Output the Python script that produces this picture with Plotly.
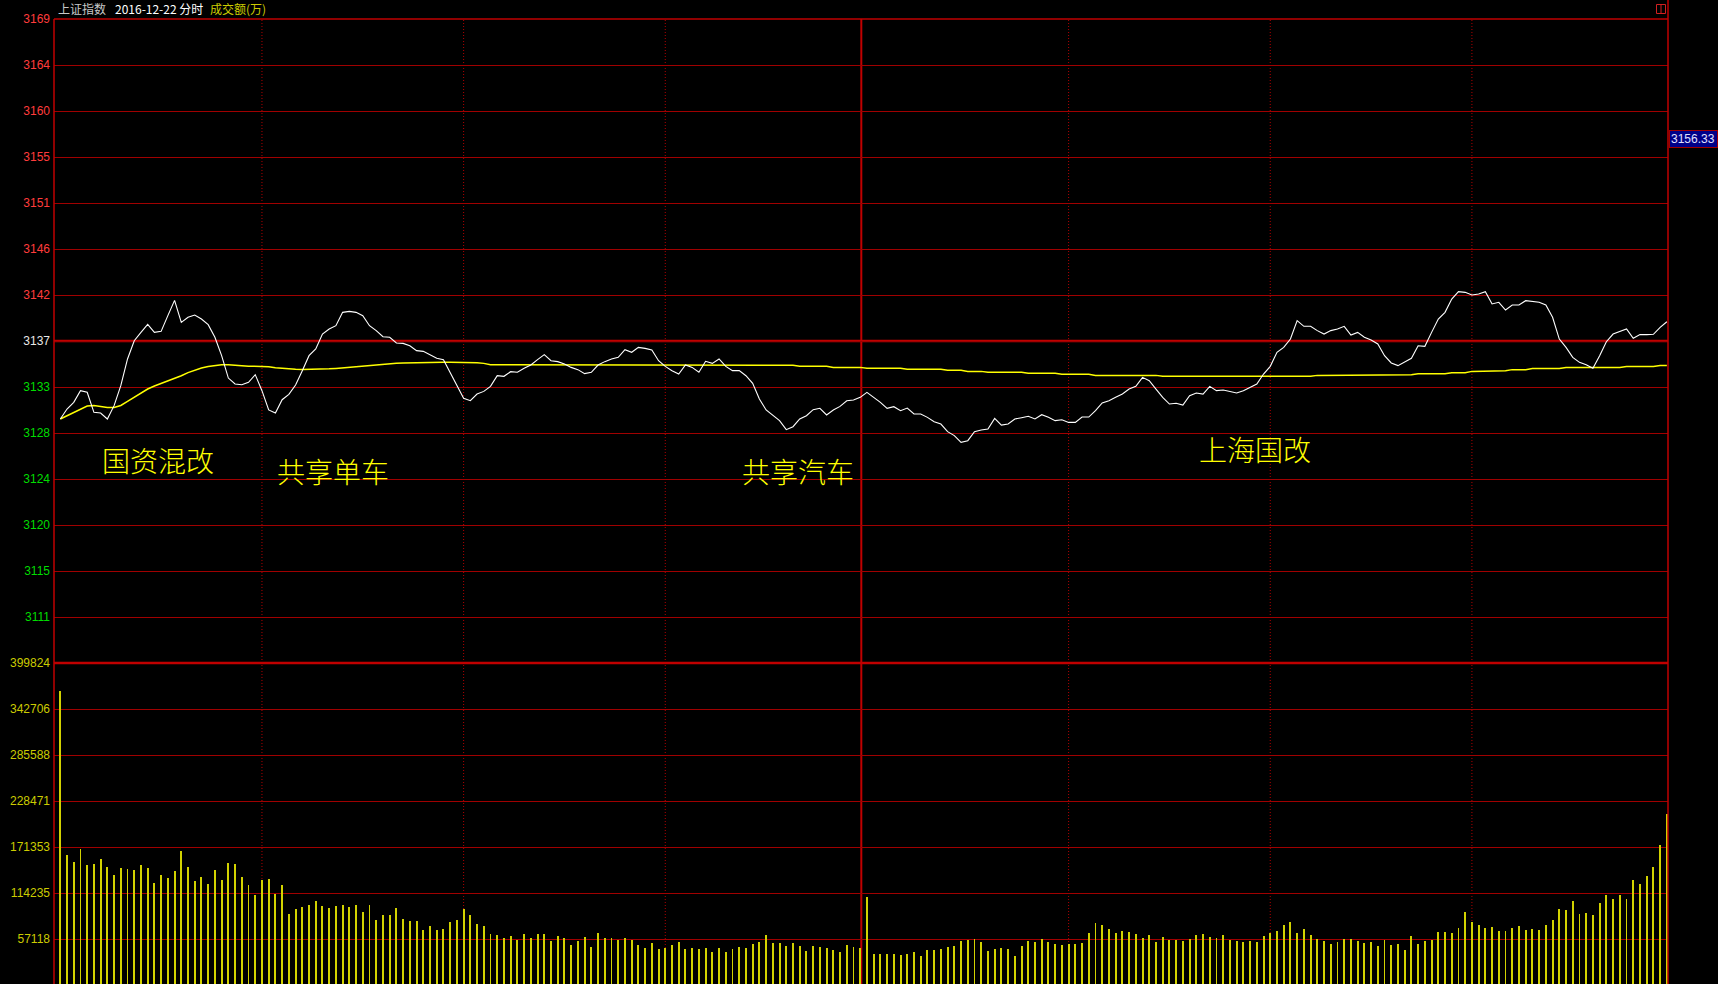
import plotly.graph_objects as go

# ---------------- data ----------------
prev_close = 3137.43          # previous close (0.00% line)
last_price_label = "3156.33"  # crosshair price box on the right

price = [
    3129.83, 3130.80, 3131.45, 3132.59, 3132.43, 3130.48, 3130.41, 3129.83, 3131.13, 3133.08,
    3135.68, 3137.46, 3138.27, 3139.05, 3138.27, 3138.37, 3139.90, 3141.39, 3139.25, 3139.74,
    3139.96, 3139.57, 3139.02, 3137.79, 3136.00, 3133.82, 3133.24, 3133.17, 3133.40, 3134.15,
    3132.59, 3130.71, 3130.41, 3131.71, 3132.23, 3133.14, 3134.54, 3136.00, 3136.65, 3138.11,
    3138.60, 3138.92, 3140.22, 3140.32, 3140.22, 3139.90, 3138.92, 3138.44, 3137.85, 3137.79,
    3137.24, 3137.20, 3136.97, 3136.49, 3136.42, 3136.10, 3135.74, 3135.61, 3134.38, 3133.08,
    3131.84, 3131.61, 3132.26, 3132.52, 3133.01, 3134.05, 3133.99, 3134.44, 3134.38, 3134.77,
    3135.09, 3135.61, 3136.10, 3135.51, 3135.42, 3135.19, 3134.86, 3134.64, 3134.25, 3134.38,
    3135.09, 3135.42, 3135.68, 3135.84, 3136.59, 3136.33, 3136.81, 3136.71, 3136.55, 3135.51,
    3134.96, 3134.54, 3134.21, 3135.09, 3134.86, 3134.38, 3135.45, 3135.25, 3135.68, 3134.96,
    3134.54, 3134.54, 3134.05, 3133.30, 3131.78, 3130.71, 3130.22, 3129.67, 3128.79, 3129.08,
    3129.83, 3130.15, 3130.74, 3130.87, 3130.22, 3130.71, 3131.06, 3131.61, 3131.68, 3131.94,
    3132.43, 3131.94, 3131.45, 3130.87, 3131.03, 3130.64, 3130.90, 3130.32, 3130.32, 3129.99,
    3129.57, 3129.34, 3128.60, 3128.21, 3127.56, 3127.72, 3128.60, 3128.76, 3128.85, 3129.89,
    3129.24, 3129.34, 3129.83, 3129.96, 3130.09, 3129.83, 3130.25, 3129.99, 3129.67, 3129.76,
    3129.50, 3129.50, 3130.02, 3130.02, 3130.64, 3131.39, 3131.61, 3131.94, 3132.26, 3132.75,
    3133.01, 3133.89, 3133.56, 3132.75, 3131.94, 3131.29, 3131.36, 3131.19, 3132.10, 3132.36,
    3132.26, 3133.01, 3132.59, 3132.66, 3132.53, 3132.36, 3132.59, 3132.91, 3133.24, 3134.21,
    3134.96, 3136.33, 3136.81, 3137.62, 3139.41, 3138.86, 3138.86, 3138.44, 3138.11, 3138.44,
    3138.60, 3138.86, 3138.01, 3138.27, 3137.79, 3137.53, 3137.14, 3136.00, 3135.29, 3135.03,
    3135.42, 3135.74, 3136.97, 3136.91, 3138.27, 3139.57, 3140.22, 3141.52, 3142.24, 3142.17,
    3141.91, 3142.01, 3142.24, 3141.04, 3141.20, 3140.45, 3140.94, 3140.94, 3141.36, 3141.29,
    3141.20, 3140.94, 3139.74, 3137.62, 3136.81, 3135.84, 3135.35, 3135.12, 3134.77, 3136.00,
    3137.36, 3138.11, 3138.34, 3138.60, 3137.69, 3138.05, 3138.05, 3138.08, 3138.76, 3139.31,
]

avg_price = [
    3129.83, 3130.15, 3130.50, 3130.85, 3131.10, 3131.15, 3131.05, 3130.95, 3130.95, 3131.15,
    3131.55, 3131.95, 3132.35, 3132.75, 3133.05, 3133.30, 3133.50, 3133.75, 3134.05, 3134.35,
    3134.60, 3134.80, 3134.95, 3135.05, 3135.12, 3135.12, 3135.10, 3135.02, 3134.98, 3134.96,
    3134.96, 3134.92, 3134.82, 3134.75, 3134.72, 3134.68, 3134.66, 3134.66, 3134.68, 3134.70,
    3134.72, 3134.76, 3134.82, 3134.88, 3134.94, 3134.99, 3135.04, 3135.09, 3135.15, 3135.20,
    3135.25, 3135.28, 3135.30, 3135.32, 3135.34, 3135.35, 3135.35, 3135.35, 3135.35, 3135.35,
    3135.35, 3135.30, 3135.30, 3135.25, 3135.12, 3135.12, 3135.12, 3135.12, 3135.12, 3135.12,
    3135.12, 3135.12, 3135.12, 3135.12, 3135.12, 3135.12, 3135.12, 3135.12, 3135.12, 3135.12,
    3135.12, 3135.12, 3135.12, 3135.12, 3135.12, 3135.12, 3135.12, 3135.12, 3135.12, 3135.12,
    3135.12, 3135.12, 3135.12, 3135.12, 3135.12, 3135.12, 3135.12, 3135.12, 3135.12, 3135.12,
    3135.12, 3135.12, 3135.12, 3135.12, 3135.12, 3135.12, 3135.06, 3135.06, 3135.06, 3135.06,
    3134.96, 3134.96, 3134.96, 3134.96, 3134.96, 3134.86, 3134.86, 3134.86, 3134.86, 3134.86,
    3134.77, 3134.77, 3134.77, 3134.77, 3134.77, 3134.77, 3134.67, 3134.67, 3134.67, 3134.67,
    3134.67, 3134.67, 3134.57, 3134.57, 3134.57, 3134.47, 3134.47, 3134.47, 3134.38, 3134.38,
    3134.38, 3134.38, 3134.38, 3134.38, 3134.28, 3134.28, 3134.28, 3134.28, 3134.28, 3134.18,
    3134.18, 3134.18, 3134.18, 3134.18, 3134.08, 3134.08, 3134.08, 3134.08, 3134.08, 3134.08,
    3134.08, 3134.08, 3134.08, 3134.08, 3133.99, 3133.99, 3133.99, 3133.99, 3133.99, 3133.99,
    3133.99, 3133.99, 3133.99, 3133.99, 3133.99, 3133.99, 3133.92, 3133.92, 3133.92, 3133.92,
    3133.92, 3133.92, 3133.92, 3133.99, 3133.99, 3133.99, 3133.99, 3134.08, 3134.08, 3134.08,
    3134.08, 3134.15, 3134.15, 3134.15, 3134.15, 3134.15, 3134.15, 3134.15, 3134.15, 3134.15,
    3134.15, 3134.15, 3134.25, 3134.25, 3134.25, 3134.25, 3134.25, 3134.34, 3134.34, 3134.34,
    3134.47, 3134.47, 3134.54, 3134.54, 3134.54, 3134.54, 3134.64, 3134.64, 3134.64, 3134.74,
    3134.74, 3134.74, 3134.74, 3134.74, 3134.84, 3134.84, 3134.84, 3134.84, 3134.84, 3134.84,
    3134.84, 3134.84, 3134.84, 3134.94, 3134.94, 3134.94, 3134.94, 3134.94, 3135.04, 3135.04,
]

volume = [
    364646, 161835, 152315, 169285, 149418, 150660, 156868, 146935, 137001, 145693,
    144451, 142382, 149418, 145693, 127067, 137001, 133276, 141968, 166802, 146935,
    129551, 134518, 125826, 143209, 130792, 151901, 150660, 134518, 124584, 112167,
    130792, 132034, 113409, 124584, 88575, 94783, 97267, 99750, 104717, 98508,
    96025, 98508, 99750, 97267, 99750, 91058, 99750, 81124, 87333, 87333,
    96025, 82366, 79883, 79883, 68707, 73674, 68707, 69949, 78641, 81124,
    94783, 87333, 76158, 73674, 63741, 62499, 58774, 61257, 56290, 63741,
    58774, 63741, 63741, 55049, 61257, 58774, 50082, 55049, 60016, 47599,
    64982, 58774, 58774, 56290, 58774, 56290, 50082, 46357, 52565, 45115,
    46357, 50082, 53807, 45115, 46357, 45115, 46357, 41390, 46357, 41390,
    45115, 47599, 46357, 51324, 53807, 62499, 52565, 52565, 48840, 52565,
    48840, 42632, 48840, 47599, 46357, 43873, 41390, 50082, 47599, 46357,
    109684, 38907, 38907, 38907, 38907, 37665, 38907, 41390, 36423, 43873,
    43873, 45115, 47599, 48840, 55049, 56290, 57532, 53807, 42632, 45115,
    46357, 45115, 36423, 48840, 55049, 53807, 57532, 53807, 51324, 50082,
    51324, 51324, 52565, 64982, 77399, 74916, 69949, 64982, 67466, 66224,
    63741, 58774, 62499, 53807, 60016, 56290, 56290, 55049, 57532, 62499,
    63741, 60016, 58774, 62499, 56290, 55049, 53807, 55049, 53807, 61257,
    64982, 67466, 74916, 78641, 64982, 69949, 62499, 57532, 55049, 51324,
    53807, 57532, 57532, 55049, 52565, 53807, 48840, 56290, 50082, 51324,
    43873, 61257, 51324, 55049, 56290, 66224, 66224, 64982, 71191, 91058,
    78641, 74916, 71191, 72433, 67466, 67466, 71191, 73674, 68707, 69949,
    68707, 74916, 81124, 94783, 93541, 104717, 88575, 89816, 87333, 102233,
    112167, 107200, 112167, 107200, 130792, 125826, 135759, 146935, 174252, 211917,
]

minutes = list(range(len(price)))          # minute index from 09:30
half_hour_marks = [30, 60, 90, 150, 180, 210]

price_labels = ["3169", "3164", "3160", "3155", "3151", "3146", "3142",
                "3137", "3133", "3128", "3124", "3120", "3115", "3111"]
pct_labels = ["1.00%", "0.86%", "0.71%", "0.57%", "0.43%", "0.29%", "0.14%",
              "0.00%", "0.14%", "0.29%", "0.43%", "0.57%", "0.71%", "0.86%"]
vol_ticks = [399824, 342706, 285588, 228471, 171353, 114235, 57118]
vol_labels = ["399824", "342706", "285588", "228471", "171353", "114235", "57118"]

header_parts = ["上证指数", "2016-12-22 分时", "成交额(万)"]
themes = ["国资混改", "共享单车", "共享汽车", "上海国改"]

# ---------------- style / layout ----------------
W, H = 1718, 984
L, R, T, B = 54, 50, 19, 0
PW, PH = W - L - R, H - T - B

def px_x(px):
    return (px - L) / PW

def px_y(py):
    return (H - B - py) / PH

RED_TXT = "#FF3C3C"
GREEN_TXT = "#00DC00"
WHITE_TXT = "#E8E8E8"
YEL_TXT = "#CCCC00"
GRID = "#A00000"
LINE_RED = "#C00000"

split = px_y(663)
step_px = 6.722
first_px = 60.3
x_range = [-(first_px - L) / step_px, (W - R - first_px) / step_px]

# price grid values: +-k/7 % of previous close
ks = list(range(7, -7, -1))
price_tickvals = [prev_close * (1 + k * 0.01 / 7) for k in ks]
p_range = [prev_close * 0.99, prev_close * 1.01]
vol_per_px = vol_ticks[-1] / 46.0
v_range = [vol_per_px * 1.0, vol_ticks[0]]

def colored(text, k):
    c = RED_TXT if k > 0 else (WHITE_TXT if k == 0 else GREEN_TXT)
    return '<span style="color:%s">%s</span>' % (c, text)

left_text = [colored(t, k) for t, k in zip(price_labels, ks)]
right_text = [colored(t, k) for t, k in zip(pct_labels, ks)]

fig = go.Figure()

fig.add_trace(go.Bar(
    x=minutes, y=volume, xaxis="x2", yaxis="y2",
    width=0.14, marker=dict(color="#D2D200", line=dict(width=0)),
    hoverinfo="skip", showlegend=False,
))
fig.add_trace(go.Scatter(
    x=minutes, y=avg_price, xaxis="x", yaxis="y", mode="lines",
    line=dict(color="#FFFF00", width=1.5), hoverinfo="skip", showlegend=False,
))
fig.add_trace(go.Scatter(
    x=minutes, y=price, xaxis="x", yaxis="y", mode="lines",
    line=dict(color="#FFFFFF", width=1.1), hoverinfo="skip", showlegend=False,
))

tickfont = dict(family="Liberation Sans, Arial, sans-serif", size=12)
common_x = dict(range=x_range, showgrid=False, zeroline=False, showline=False,
                showticklabels=False, ticks="", fixedrange=True)

fig.update_layout(
    width=W, height=H,
    margin=dict(l=L, r=R, t=T, b=B, pad=0),
    paper_bgcolor="#000000", plot_bgcolor="#000000",
    showlegend=False, bargap=0,
    xaxis=dict(domain=[0, 1], anchor="y", **common_x),
    xaxis2=dict(domain=[0, 1], anchor="y2", matches="x", **common_x),
    yaxis=dict(domain=[split, 1], anchor="x", range=p_range, side="left",
               tickmode="array", tickvals=price_tickvals, ticktext=left_text,
               showgrid=True, gridcolor=GRID, gridwidth=1, zeroline=False,
               ticks="", ticklen=0, ticklabelstandoff=3, tickfont=tickfont,
               showline=False, fixedrange=True),
    yaxis3=dict(overlaying="y", anchor="x", range=p_range, side="right",
                tickmode="array", tickvals=price_tickvals, ticktext=right_text,
                showgrid=False, zeroline=False, ticks="", ticklen=0,
                ticklabelstandoff=3, tickfont=tickfont, showline=False, fixedrange=True),
    yaxis2=dict(domain=[0, split], anchor="x2", range=v_range, side="left",
                tickmode="array", tickvals=vol_ticks, ticktext=vol_labels,
                showgrid=True, gridcolor=GRID, gridwidth=1, zeroline=False,
                ticks="", ticklen=0, ticklabelstandoff=3,
                tickfont=dict(color=YEL_TXT, **tickfont), showline=False, fixedrange=True),
    yaxis4=dict(overlaying="y2", anchor="x2", range=v_range, side="right",
                tickmode="array", tickvals=vol_ticks, ticktext=vol_labels,
                showgrid=False, zeroline=False, ticks="", ticklen=0,
                ticklabelstandoff=3, tickfont=dict(color=YEL_TXT, **tickfont),
                showline=False, fixedrange=True),
)

shapes = []
# half-hour dotted lines
for m in half_hour_marks:
    shapes.append(dict(type="line", xref="x", yref="paper", x0=m, x1=m, y0=0, y1=1,
                       line=dict(color="#B00000", width=1, dash="1px,2px"), layer="below"))
# lunch-break solid line (center)
shapes.append(dict(type="line", xref="paper", yref="paper", x0=px_x(861.3), x1=px_x(861.3),
                   y0=0, y1=1, line=dict(color=LINE_RED, width=2), layer="below"))
# previous close line
shapes.append(dict(type="line", xref="paper", yref="y", x0=0, x1=1, y0=prev_close, y1=prev_close,
                   line=dict(color=LINE_RED, width=2.5), layer="below"))
# separator between panels
shapes.append(dict(type="line", xref="paper", yref="paper", x0=0, x1=1, y0=split, y1=split,
                   line=dict(color=LINE_RED, width=2.5), layer="below"))
# borders
shapes.append(dict(type="line", xref="paper", yref="paper", x0=0, x1=1, y0=1, y1=1,
                   line=dict(color=LINE_RED, width=1.5)))
shapes.append(dict(type="line", xref="paper", yref="paper", x0=0, x1=0, y0=0, y1=1,
                   line=dict(color=LINE_RED, width=1.5)))
shapes.append(dict(type="line", xref="paper", yref="paper", x0=1, x1=1, y0=0, y1=px_y(0),
                   line=dict(color=LINE_RED, width=1.5)))
# small icon at top right
shapes.append(dict(type="rect", xref="paper", yref="paper",
                   x0=px_x(1656.5), x1=px_x(1665.5), y0=px_y(13.5), y1=px_y(4.5),
                   line=dict(color="#D02020", width=1), fillcolor="rgba(0,0,0,0)"))
shapes.append(dict(type="line", xref="paper", yref="paper",
                   x0=px_x(1661), x1=px_x(1661), y0=px_y(13.5), y1=px_y(4.5),
                   line=dict(color="#D02020", width=1)))
fig.update_layout(shapes=shapes)

annotations = []
hdr_font = "Noto Sans CJK SC, sans-serif"
for text, xpx, col in zip(header_parts, [56, 113, 208], ["#C8C8C8", "#FFFFFF", YEL_TXT]):
    annotations.append(dict(text=text, xref="paper", yref="paper", x=px_x(xpx), y=px_y(9),
                            xanchor="left", yanchor="middle", showarrow=False,
                            font=dict(family=hdr_font, size=12, color=col)))
# crosshair price box
annotations.append(dict(text=last_price_label, xref="paper", yref="paper",
                        x=px_x(1669), y=px_y(139), xanchor="left", yanchor="middle",
                        showarrow=False, bgcolor="#000088", bordercolor="#A00000",
                        borderwidth=1, borderpad=1, width=45, align="left",
                        font=dict(family="Liberation Sans, Arial, sans-serif", size=12,
                                  color="#E0E0FF")))
# theme labels
for text, (cx, cy) in zip(themes, [(158, 460), (333, 471), (798, 471), (1255, 449)]):
    annotations.append(dict(text=text, xref="paper", yref="paper", x=px_x(cx), y=px_y(cy),
                            xanchor="center", yanchor="middle", showarrow=False,
                            font=dict(family=hdr_font, size=28, color="#FFFF00", weight=300)))
fig.update_layout(annotations=annotations)

fig.write_html(
    "out.html",
    config={"displayModeBar": False},
    post_script="document.body.style.margin='0';document.body.style.background='#000000';",
)
